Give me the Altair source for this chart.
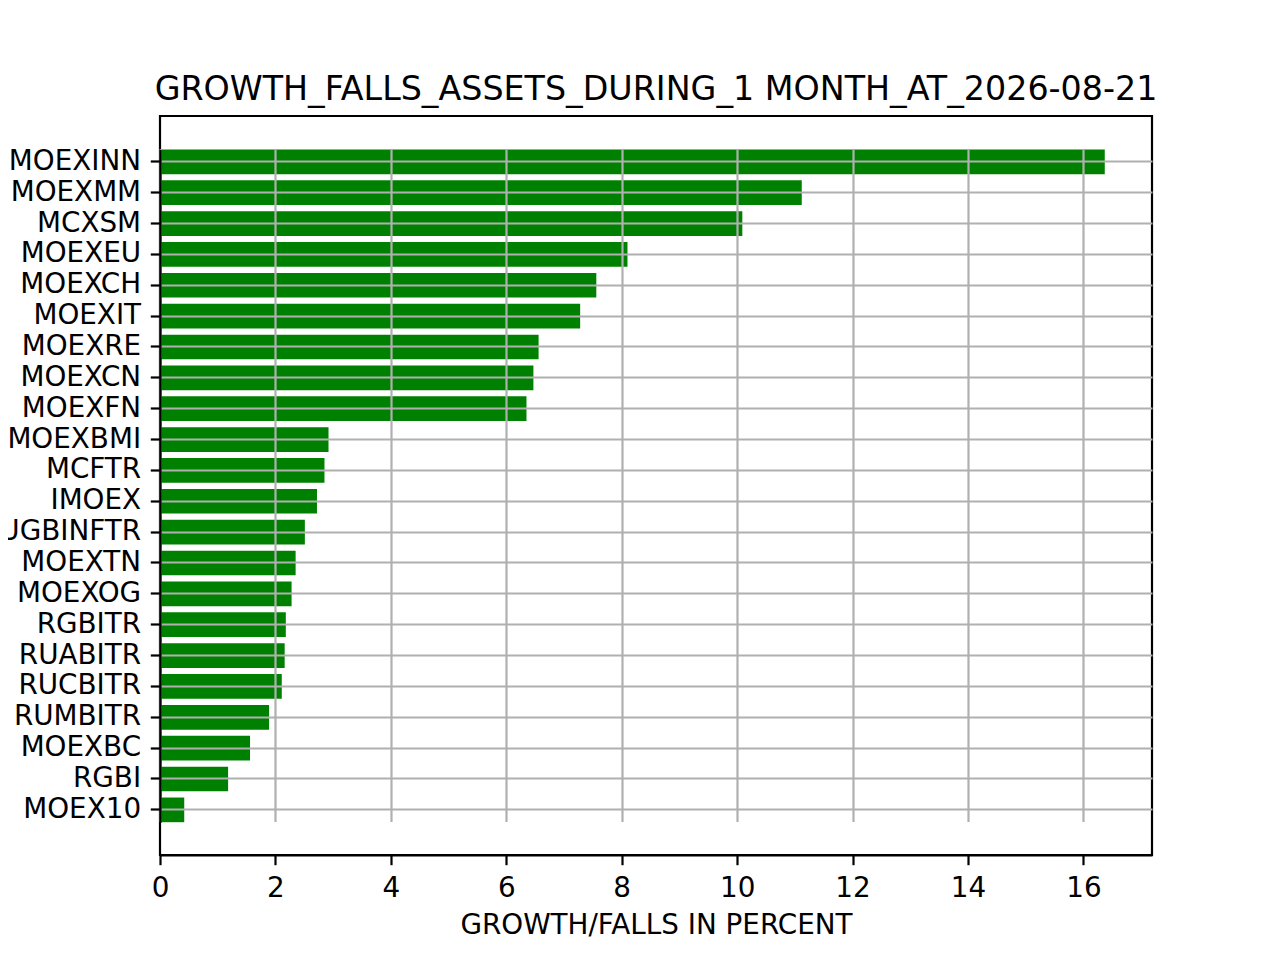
import altair as alt
import pandas as pd

assets = ["MOEXINN", "MOEXMM", "MCXSM", "MOEXEU", "MOEXCH", "MOEXIT", "MOEXRE",
          "MOEXCN", "MOEXFN", "MOEXBMI", "MCFTR", "IMOEX", "RUGBINFTR", "MOEXTN",
          "MOEXOG", "RGBITR", "RUABITR", "RUCBITR", "RUMBITR", "MOEXBC", "RGBI", "MOEX10"]
growth = [16.37, 11.12, 10.09, 8.10, 7.56, 7.28, 6.56, 6.47, 6.35, 2.92, 2.85, 2.72,
          2.51, 2.35, 2.28, 2.18, 2.16, 2.11, 1.89, 1.56, 1.18, 0.42]
x_ticks = [0, 2, 4, 6, 8, 10, 12, 14, 16]

df = pd.DataFrame({"asset": assets, "growth": growth})
FONT = "DejaVu Sans"
x_max = max(growth) * 1.05

chart = alt.Chart(df).mark_bar(color="#008000").encode(
    x=alt.X("growth:Q",
            scale=alt.Scale(domain=[0, x_max], nice=False, zero=True),
            axis=alt.Axis(values=x_ticks, title="GROWTH/FALLS IN PERCENT",
                          grid=True, gridColor="#b0b0b0", gridWidth=2.2,
                          tickSize=9.7, tickWidth=2.2, tickColor="black",
                          domain=True, domainColor="black", domainWidth=2.2,
                          labelPadding=9.7, labelFontSize=27.8,
                          labelColor="black", labelFont=FONT,
                          titleFont=FONT, titleFontSize=27.8, titleFontWeight="normal",
                          titleColor="black", titlePadding=9, zindex=1,
                          labelFlush=False, format="d")),
    y=alt.Y("asset:N", sort=assets,
            scale=alt.Scale(paddingInner=0.2, paddingOuter=0, range=[33.5, 706.2]),
            axis=alt.Axis(title=None, grid=True, gridColor="#b0b0b0", gridWidth=2.2,
                          tickSize=9.7, tickWidth=2.2, tickColor="black",
                          domain=True, domainColor="black", domainWidth=2.2,
                          labelPadding=9.7, labelFontSize=27.8,
                          labelColor="black", labelFont=FONT, labelLimit=0,
                          zindex=1)),
).properties(
    width=992, height=739,
    title=alt.TitleParams("GROWTH_FALLS_ASSETS_DURING_1 MONTH_AT_2026-08-21",
                          font=FONT, fontSize=33.3, fontWeight="normal",
                          color="black", anchor="middle", offset=9),
    autosize=alt.AutoSizeParams(type="none"),
    padding={"left": 152, "top": 108, "right": 112, "bottom": 97},
).configure(
    background="white"
).configure_view(
    stroke="black", strokeWidth=2.2
)

chart.save("out.html", embed_options={"renderer": "svg", "actions": False})
